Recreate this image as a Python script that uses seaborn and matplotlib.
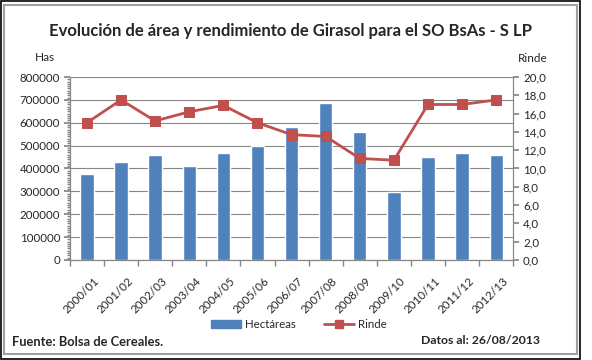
import matplotlib
matplotlib.use("Agg")
import matplotlib.pyplot as plt
import matplotlib.transforms as mtransforms
import seaborn as sns
import pandas as pd
from matplotlib.ticker import MultipleLocator, FuncFormatter
from matplotlib.patches import Rectangle, Patch
from matplotlib.lines import Line2D

# datos
campanias = ["2000/01", "2001/02", "2002/03", "2003/04", "2004/05", "2005/06", "2006/07",
             "2007/08", "2008/09", "2009/10", "2010/11", "2011/12", "2012/13"]
hectareas = [376000, 428000, 459000, 411000, 469000, 498000, 582000,
             687000, 559000, 298000, 450000, 466000, 459000]
rinde = [15.0, 17.5, 15.2, 16.2, 16.9, 15.0, 13.7, 13.5, 11.1, 10.9, 17.0, 17.0, 17.5]

df = pd.DataFrame({"Campania": campanias, "Hectareas": hectareas, "Rinde": rinde})

sns.set_theme(style="white")
plt.rcParams["font.family"] = ["Lato", "DejaVu Sans"]

azul = "#4F81BD"
rojo = "#C0504D"
gris = "#868686"

fig = plt.figure(figsize=(5.92, 3.6), dpi=100)
ax = fig.add_axes([0.118, 0.278, 0.749, 0.508])

sns.barplot(data=df, x="Campania", y="Hectareas", color=azul, saturation=1,
            width=0.39, ax=ax, zorder=2)
ax.set_ylim(0, 800000)
ax.yaxis.set_major_locator(MultipleLocator(100000))
ax.yaxis.set_minor_locator(MultipleLocator(10000))
ax.yaxis.set_major_formatter(FuncFormatter(lambda v, p: f"{int(v)}"))
ax.grid(axis="y", color=gris, lw=0.8, zorder=0)
ax.set_axisbelow(True)
ax.set_xlabel("")
ax.set_ylabel("")
ax.set_xlim(-0.5, len(campanias) - 0.5)

ax2 = ax.twinx()
sns.lineplot(x=list(range(len(campanias))), y=rinde, ax=ax2, color=rojo, lw=2,
             marker="s", markersize=7, markeredgecolor=rojo, zorder=3)
ax2.set_ylim(0, 20)
ax2.yaxis.set_major_locator(MultipleLocator(2))
ax2.yaxis.set_major_formatter(FuncFormatter(lambda v, p: f"{v:.1f}".replace(".", ",")))
ax2.set_ylabel("")
ax2.grid(False)
ax2.set_xlim(-0.5, len(campanias) - 0.5)

for a in (ax, ax2):
    for s in a.spines.values():
        s.set_color(gris)
        s.set_linewidth(0.8)
    a.spines["top"].set_visible(False)

ax.set_xticks(range(len(campanias)))
ax.set_xticklabels(campanias, rotation=45, ha="right", rotation_mode="anchor", fontsize=8.3)
ax.set_xticks([i - 0.5 for i in range(len(campanias) + 1)], minor=True)
ax.tick_params(axis="x", which="major", length=0, pad=11)
ax.tick_params(axis="x", which="minor", length=4, color=gris, bottom=True)
ax.tick_params(axis="y", which="major", length=4, color=gris, left=True, labelsize=8.3, pad=3)
ax.tick_params(axis="y", which="minor", length=2, color=gris, left=True)
ax2.tick_params(axis="y", which="major", length=4, color=gris, right=True, labelsize=8.3, pad=3)

desplazo = mtransforms.ScaledTranslation(6 / 100, 0, fig.dpi_scale_trans)
for lab in ax.get_xticklabels():
    lab.set_transform(lab.get_transform() + desplazo)

fig.text(0.49, 0.913, "Evolución de área y rendimiento de Girasol para el SO BsAs - S LP",
         ha="center", va="center", fontsize=12, fontweight="bold")
fig.text(0.076, 0.84, "Has", ha="center", va="center", fontsize=8.5)
fig.text(0.9, 0.838, "Rinde", ha="center", va="center", fontsize=8.5)
fig.text(0.02, 0.05, "Fuente: Bolsa de Cereales.", ha="left", va="center",
         fontsize=9.3, fontweight="bold")
fig.text(0.913, 0.053, "Datos al: 26/08/2013", ha="right", va="center",
         fontsize=8.8, fontweight="bold")

handles = [Patch(color=azul, label="Hectáreas"),
           Line2D([], [], color=rojo, lw=2, marker="s", markersize=6, label="Rinde")]
fig.legend(handles=handles, loc="center", bbox_to_anchor=(0.505, 0.098), ncol=2,
           frameon=False, fontsize=8.3, handlelength=2.6, columnspacing=2.5,
           handletextpad=0.3)

# marcos exteriores
fig.patches.append(Rectangle((0.002, 0.003), 0.978, 0.994, transform=fig.transFigure,
                             fill=False, edgecolor="black", lw=1.2))
fig.patches.append(Rectangle((0.007, 0.017), 0.967, 0.97, transform=fig.transFigure,
                             fill=False, edgecolor="#A0A0A0", lw=1.5))

fig.savefig("out.png", dpi=100)
